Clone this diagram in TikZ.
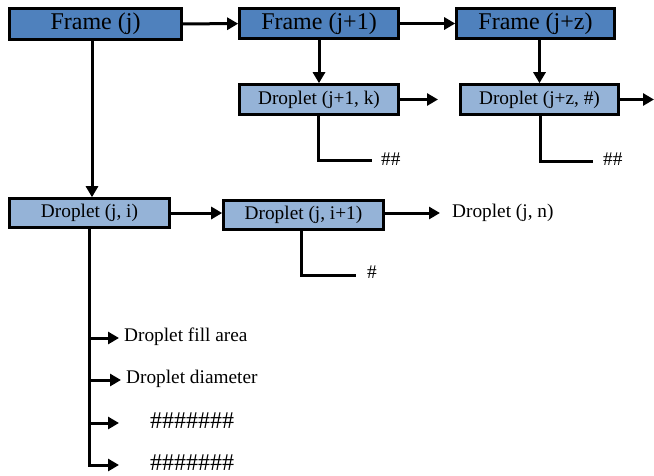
\documentclass[tikz,border=0pt]{standalone}
\usepackage{fontspec}
\setmainfont{Liberation Serif}
\usetikzlibrary{arrows.meta}
\definecolor{framecol}{RGB}{79,129,189}
\definecolor{dropcol}{RGB}{149,179,215}
\tikzset{
  box/.style={draw=black, line width=2.6pt, inner sep=0pt, anchor=center},
  framebox/.style={box, fill=framecol, font=\fontsize{24}{28}\selectfont},
  dropbox/.style={box, fill=dropcol, font=\fontsize{19.3}{22}\selectfont},
  lbl/.style={inner sep=0pt, font=\fontsize{19.3}{22}\selectfont},
  conn/.style={line width=3pt},
  arr/.style={conn, -{Triangle[length=11pt,width=12pt]}}
}
\begin{document}
\begin{tikzpicture}[x=1pt,y=-1pt]
\useasboundingbox (0,0) rectangle (654,475);
% frames
\node[framebox, minimum width=172pt, minimum height=31pt] (f1) at (95.5,24) {Frame (j)};
\node[framebox, minimum width=159pt, minimum height=30pt] (f2) at (319,23.5) {Frame (j+1)};
\node[framebox, minimum width=158pt, minimum height=30pt] (f3) at (535.5,23.5) {Frame (j+z)};
% droplets
\node[dropbox, minimum width=159pt, minimum height=30pt] (d1) at (319,99.5) {Droplet (j+1, k)};
\node[dropbox, minimum width=158pt, minimum height=30pt] (d2) at (539.5,99.5) {Droplet (j+z, \#)};
\node[dropbox, minimum width=160pt, minimum height=29pt] (d3) at (89.5,213) {Droplet (j, i)};
\node[dropbox, minimum width=160pt, minimum height=29pt] (d4) at (303.5,215) {Droplet (j, i+1)};
% free labels
\node[lbl, anchor=west] (dn) at (452,213) {Droplet (j, n)};
\node[lbl, anchor=west] (h1t) at (381,159) {\#\#};
\node[lbl, anchor=west] (h2t) at (603,159) {\#\#};
\node[lbl, anchor=west] (h3t) at (367,272) {\#};
\node[lbl, anchor=west] (p1) at (124,337) {Droplet fill area};
\node[lbl, anchor=west] (p2) at (126,379) {Droplet diameter};
\node[lbl, anchor=west, font=\fontsize{24}{26}\selectfont] (p3) at (150,421) {\#\#\#\#\#\#\#};
\node[lbl, anchor=west, font=\fontsize{24}{26}\selectfont] (p4) at (150,463) {\#\#\#\#\#\#\#};
% coordinates for free ends
\coordinate (e1) at (438,99.5);
\coordinate (e2) at (654,99.5);
\coordinate (e3) at (440,213);
\coordinate (c1) at (372,160);
\coordinate (c2) at (593,161);
\coordinate (c3) at (356,275);
\coordinate (b1) at (119,338);
\coordinate (b2) at (121,380);
\coordinate (b3) at (119,423);
\coordinate (b4) at (119,465);
% frame chain
\draw[arr] (f1) -- (f2);
\draw[arr] (f2) -- (f3);
\draw[arr] (f2.south) -- (d1.north);
\draw[arr] (f3.south -| d2.north) -- (d2.north);
\draw[arr] ([xshift=-3.5pt]f1.south) -- ([xshift=-3.5pt]f1.south |- d3.north);
% droplet chains
\draw[arr] (d1.east) -- (e1);
\draw[arr] (d2.east) -- (e2);
\draw[arr] (d3.east) -- (d3.east -| d4.west);
\draw[arr] (d4.east |- e3) -- (e3);
% L branches
\draw[conn] ([xshift=-1pt]d1.south) |- (c1);
\draw[conn] ([xshift=0.5pt]d2.south) |- (c2);
\draw[conn] ([xshift=-2.5pt]d4.south) |- (c3);
% property list
\draw[conn] (d3.south) -- (d3.south |- b4);
\draw[arr] (d3.south |- b1) -- (b1);
\draw[arr] (d3.south |- b2) -- (b2);
\draw[arr] (d3.south |- b3) -- (b3);
\draw[arr] ([yshift=-1.5pt]d3.south |- b4) |- (b4);
\end{tikzpicture}
\end{document}
